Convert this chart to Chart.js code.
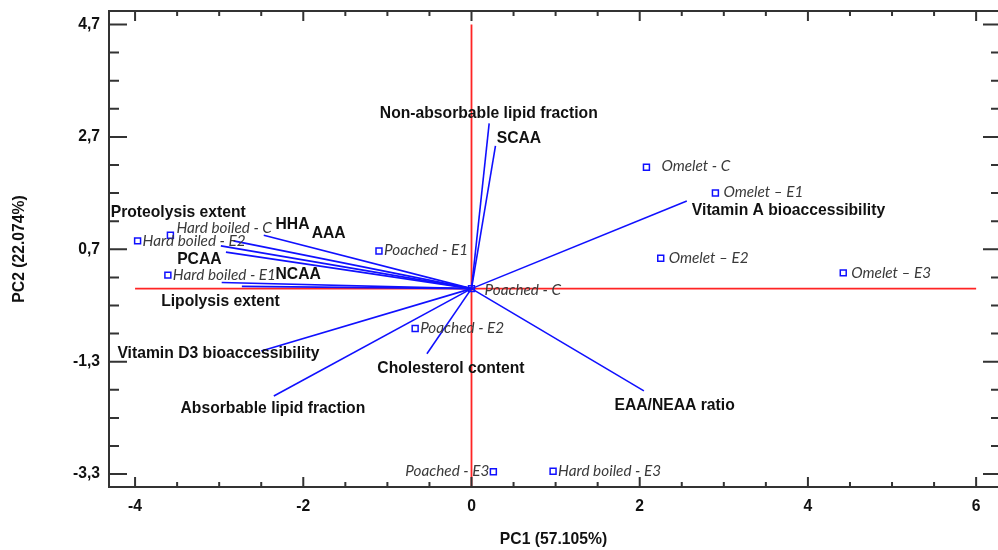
<!DOCTYPE html>
<html>
<head>
<meta charset="utf-8">
<script src="https://cdn.jsdelivr.net/npm/chart.js@4.4.1/dist/chart.umd.min.js"></script>
<style>
  body { margin: 0; background: #fff; }
</style>
</head>
<body>
<canvas id="biplot" width="998" height="550"></canvas>
<script>
// variable loadings (PC1, PC2)
const variables = ['Non-absorbable lipid fraction', 'SCAA', 'Vitamin A bioaccessibility', 'EAA/NEAA ratio',
  'Cholesterol content', 'Absorbable lipid fraction', 'Vitamin D3 bioaccessibility', 'Lipolysis extent',
  'NCAA', 'PCAA', 'Proteolysis extent', 'AAA', 'HHA'];
const loadPC1 = [0.21, 0.285, 2.56, 2.05, -0.53, -2.35, -2.50, -2.73, -2.97, -2.92, -2.98, -2.83, -2.47];
const loadPC2 = [2.94, 2.54, 1.56, -1.82, -1.16, -1.91, -1.11, 0.04, 0.11, 0.65, 0.76, 0.85, 0.95];

// sample scores (PC1, PC2)
const samples = ['Hard boiled - C', 'Hard boiled - E1', 'Hard boiled - E2', 'Hard boiled - E3',
  'Poached - C', 'Poached - E1', 'Poached - E2', 'Poached - E3',
  'Omelet - C', 'Omelet \u2013 E1', 'Omelet \u2013 E2', 'Omelet \u2013 E3'];
const scorePC1 = [-3.58, -3.61, -3.97, 0.97, 0.0, -1.10, -0.67, 0.26, 2.08, 2.90, 2.25, 4.42];
const scorePC2 = [0.95, 0.24, 0.85, -3.25, 0.0, 0.67, -0.71, -3.26, 2.16, 1.70, 0.54, 0.28];

const xTicks = [-4, -2, 0, 2, 4, 6];
const yTicks = [-3.3, -1.3, 0.7, 2.7, 4.7];

// where the variable names sit (data units, left/middle anchored)
const varLabelAt = [[-1.09, 3.12], [0.30, 2.66], [2.62, 1.38], [1.70, -2.08], [-1.12, -1.43], [-3.46, -2.14],
  [-4.21, -1.15], [-3.69, -0.23], [-2.33, 0.24], [-3.50, 0.52], [-4.29, 1.35], [-1.90, 0.98], [-2.33, 1.13]];
// sample name offsets from the marker, in px
const sampleLabelOff = [[6, -7, 'left'], [5, 0, 'left'], [5, 0, 'left'], [5, 0, 'left'],
  [13, 1, 'left'], [5, -1, 'left'], [5, 0, 'left'], [-4, -1, 'right'],
  [15, -1, 'left'], [8, -1, 'left'], [8, 0, 'left'], [8, 0, 'left']];

const BLUE = '#1010ff';
const RED = '#ff2424';
const INK = '#333';

const datasets = [];
datasets.push({
  data: samples.map((s, i) => ({x: scorePC1[i], y: scorePC2[i]})),
  pointStyle: 'rect',
  pointRadius: 4.2,
  pointBorderWidth: 1.5,
  pointBorderColor: BLUE,
  pointBackgroundColor: 'rgba(255,255,255,0)',
  showLine: false,
  order: 1.5
});
variables.forEach((v, i) => {
  datasets.push({
    data: [{x: 0, y: 0}, {x: loadPC1[i], y: loadPC2[i]}],
    showLine: true,
    borderColor: BLUE,
    borderWidth: 1.6,
    pointRadius: 0,
    order: 1
  });
});
// origin lines
datasets.push({
  data: [{x: xTicks[0], y: 0}, {x: xTicks[xTicks.length - 1], y: 0}],
  showLine: true, borderColor: RED, borderWidth: 1.8, pointRadius: 0, order: 2
});
datasets.push({
  data: [{x: 0, y: yTicks[yTicks.length - 1]}, {x: 0, y: -3.53}],
  showLine: true, borderColor: RED, borderWidth: 1.8, pointRadius: 0, order: 2
});

const frameTicks = {
  id: 'frameTicks',
  afterDraw(chart) {
    const {ctx, chartArea: a, scales: {x, y}} = chart;
    ctx.save();
    ctx.strokeStyle = INK;
    ctx.lineWidth = 2;
    ctx.beginPath();
    ctx.moveTo(a.right + 2, a.top);
    ctx.lineTo(a.left, a.top);
    ctx.lineTo(a.left, a.bottom);
    ctx.lineTo(a.right + 2, a.bottom);
    const x0 = xTicks[0], nx = (xTicks[xTicks.length - 1] - x0) / 0.5;
    for (let k = 0; k <= nx; k++) {
      const v = x0 + k * 0.5;
      const px = x.getPixelForValue(v);
      const major = xTicks.some(t => Math.abs(t - v) < 1e-6);
      ctx.moveTo(px, a.bottom); ctx.lineTo(px, a.bottom - (major ? 10 : 5));
      ctx.moveTo(px, a.top); ctx.lineTo(px, a.top + (major ? 10 : 5));
    }
    const y0 = yTicks[0], ny = Math.round((yTicks[yTicks.length - 1] - y0) / 0.5);
    for (let k = 0; k <= ny; k++) {
      const v = y0 + k * 0.5;
      const py = y.getPixelForValue(v);
      const major = yTicks.some(t => Math.abs(t - v) < 1e-6);
      ctx.moveTo(a.left, py); ctx.lineTo(a.left + (major ? 18 : 10), py);
      ctx.moveTo(a.right, py); ctx.lineTo(a.right - (major ? 15 : 7), py);
    }
    ctx.stroke();
    ctx.restore();
  }
};

const biplotLabels = {
  id: 'biplotLabels',
  afterDatasetsDraw(chart) {
    const {ctx, scales: {x, y}} = chart;
    ctx.save();
    ctx.textBaseline = 'middle';
    ctx.fillStyle = '#111';
    ctx.font = 'bold 15.7px "Liberation Sans", Arial, sans-serif';
    ctx.textAlign = 'left';
    variables.forEach((name, i) => {
      ctx.fillText(name, x.getPixelForValue(varLabelAt[i][0]), y.getPixelForValue(varLabelAt[i][1]));
    });
    ctx.fillStyle = '#3a3a3a';
    ctx.font = 'italic 15.3px Lato, "Open Sans", sans-serif';
    samples.forEach((name, i) => {
      const [dx, dy, align] = sampleLabelOff[i];
      ctx.textAlign = align;
      ctx.fillText(name, x.getPixelForValue(scorePC1[i]) + dx, y.getPixelForValue(scorePC2[i]) + dy);
    });
    ctx.restore();
  }
};

const tickFont = {family: '"Liberation Sans", Arial, sans-serif', size: 15.7, weight: 'bold'};

new Chart(document.getElementById('biplot'), {
  type: 'scatter',
  data: {datasets: datasets},
  options: {
    responsive: false,
    animation: false,
    layout: {autoPadding: false, padding: {top: 11, right: 0, left: 0, bottom: 0}},
    plugins: {legend: {display: false}, tooltip: {enabled: false}},
    scales: {
      x: {
        type: 'linear',
        min: -4.31,
        max: 6.26,
        grid: {display: false, drawTicks: false},
        border: {display: false},
        afterBuildTicks: s => { s.ticks = xTicks.map(v => ({value: v})); },
        afterFit: s => { s.height = 63; s.paddingLeft = 0; s.paddingRight = 0; },
        ticks: {
          font: tickFont,
          color: '#111',
          padding: 10,
          maxRotation: 0,
          callback: v => String(v)
        },
        title: {
          display: true,
          text: 'PC1 (57.105%)',
          font: tickFont,
          color: '#111',
          padding: {top: 0, bottom: 1}
        }
      },
      y: {
        type: 'linear',
        min: -3.53,
        max: 4.94,
        grid: {display: false, drawTicks: false},
        border: {display: false},
        afterBuildTicks: s => { s.ticks = yTicks.map(v => ({value: v})); },
        afterFit: s => { s.width = 109; s.paddingTop = 0; s.paddingBottom = 0; },
        ticks: {
          font: tickFont,
          color: '#111',
          padding: 9,
          callback: v => v.toFixed(1).replace('.', ',')
        },
        title: {
          display: true,
          text: 'PC2 (22.074%)',
          font: tickFont,
          color: '#111',
          padding: {top: 10, bottom: 0}
        }
      }
    }
  },
  plugins: [frameTicks, biplotLabels]
});
</script>
</body>
</html>
